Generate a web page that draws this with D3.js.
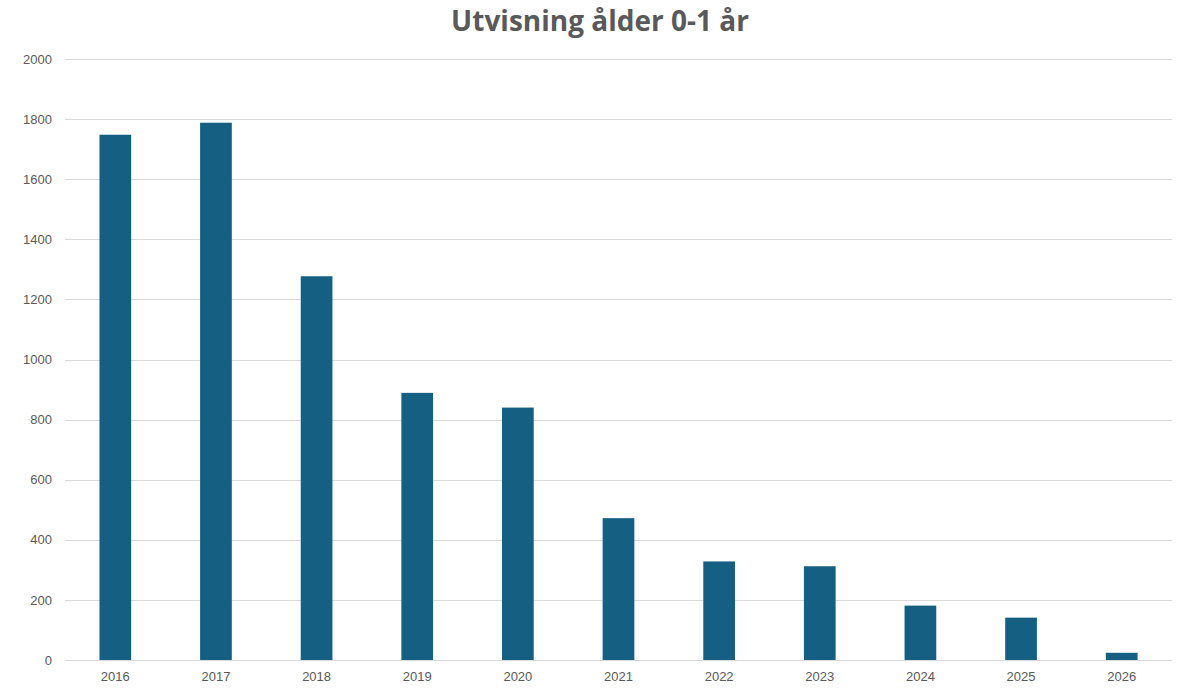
<!DOCTYPE html>
<html>
<head>
<meta charset="utf-8">
<script src="https://cdn.jsdelivr.net/npm/d3@7"></script>
<style>
  body { margin: 0; background: #fff; }
  svg { display: block; font-family: "Liberation Sans", Arial, sans-serif; }
</style>
</head>
<body>
<div id="chart"></div>
<script>
var years = ["2016", "2017", "2018", "2019", "2020", "2021", "2022", "2023", "2024", "2025", "2026"];
var values = [1748, 1788, 1277, 889, 840, 472, 328, 312, 181, 141, 24];
var yTicks = [0, 200, 400, 600, 800, 1000, 1200, 1400, 1600, 1800, 2000];
var title = "Utvisning ålder 0-1 år";

var W = 1200, H = 691;
var margin = { top: 59, right: 28, bottom: 31, left: 65 };
var width = W - margin.left - margin.right,
    height = H - margin.top - margin.bottom;

var svg = d3.select("#chart").append("svg")
    .attr("width", W)
    .attr("height", H);

svg.append("text")
    .attr("x", W / 2)
    .attr("y", 31)
    .attr("text-anchor", "middle")
    .attr("fill", "#595959")
    .style("font-family", "'Open Sans', 'Liberation Sans', sans-serif")
    .style("font-weight", "bold")
    .style("font-size", "28px")
    .text(title);

var g = svg.append("g").attr("transform", "translate(" + margin.left + "," + margin.top + ")");

var x = d3.scaleBand()
    .domain(years)
    .range([0, width])
    .paddingInner(0.685)
    .paddingOuter(0.3425);

var y = d3.scaleLinear()
    .domain([0, 2000])
    .range([height, 0]);

// grid lines
g.append("g")
    .selectAll("line")
    .data(yTicks)
    .enter().append("line")
    .attr("x1", 0)
    .attr("x2", width)
    .attr("y1", function(d) { return Math.round(y(d)) + 0.5; })
    .attr("y2", function(d) { return Math.round(y(d)) + 0.5; })
    .attr("stroke", "#d9d9d9")
    .attr("stroke-width", 1);

// bars
g.append("g")
    .selectAll("rect")
    .data(values)
    .enter().append("rect")
    .attr("x", function(d, i) { return x(years[i]); })
    .attr("y", function(d) { return y(d); })
    .attr("width", x.bandwidth())
    .attr("height", function(d) { return height - y(d); })
    .attr("fill", "#156082");

// y axis
var yAxis = g.append("g")
    .call(d3.axisLeft(y).tickValues(yTicks).tickFormat(d3.format("d")).tickSize(0).tickPadding(13));
yAxis.select(".domain").remove();
yAxis.selectAll("text")
    .attr("fill", "#595959")
    .style("font-size", "13px");

// x axis
var xAxis = g.append("g")
    .attr("transform", "translate(0," + height + ")")
    .call(d3.axisBottom(x).tickSize(0).tickPadding(12));
xAxis.select(".domain").remove();
xAxis.selectAll("text")
    .attr("fill", "#595959")
    .style("font-size", "13px");
</script>
</body>
</html>
